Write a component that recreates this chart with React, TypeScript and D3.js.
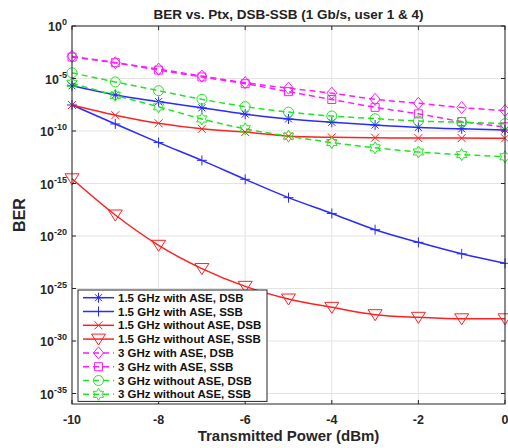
import React from 'react';
import * as d3 from 'd3';

// x axis: transmitted power (dBm)
const powers = [-10, -9, -8, -7, -6, -5, -4, -3, -2, -1, 0];

// BER (log axis)
const ber15AseDsb = [2.0e-6, 2.7e-7, 6.3e-8, 1.6e-8, 4.0e-9, 1.4e-9, 6.8e-10, 3.7e-10, 2.2e-10, 1.6e-10, 1.26e-10];
const ber15AseSsb = [3.0e-8, 4.7e-10, 7.9e-12, 1.6e-13, 2.5e-15, 4.5e-17, 1.4e-18, 4.0e-20, 2.5e-21, 2.0e-22, 2.5e-23];
const ber15NoAseDsb = [3.0e-8, 3.2e-9, 5.4e-10, 1.6e-10, 7.9e-11, 3.2e-11, 2.5e-11, 2.3e-11, 2.1e-11, 2.1e-11, 2.0e-11];
const ber15NoAseSsb = [2.8e-15, 1.0e-18, 1.3e-21, 7.9e-24, 1.6e-25, 1.0e-26, 1.6e-27, 3.2e-28, 1.8e-28, 1.3e-28, 1.3e-28];
const ber3AseDsb = [1.3e-3, 3.2e-4, 7.9e-5, 1.7e-5, 4.0e-6, 1.2e-6, 4.0e-7, 1.05e-7, 4.4e-8, 1.7e-8, 8.9e-9];
const ber3AseSsb = [1.1e-3, 3.2e-4, 6.3e-5, 1.4e-5, 3.2e-6, 5.6e-7, 1.0e-7, 1.8e-8, 4.3e-9, 7.9e-10, 2.5e-10];
const ber3NoAseDsb = [3.5e-5, 4.7e-6, 6.9e-7, 1.05e-7, 2.1e-8, 6.3e-9, 2.7e-9, 1.5e-9, 8.9e-10, 6.8e-10, 5.0e-10];
const ber3NoAseSsb = [3.5e-6, 2.5e-7, 2.0e-8, 1.4e-9, 1.6e-10, 3.2e-11, 7.9e-12, 2.5e-12, 1.0e-12, 5.6e-13, 3.5e-13];

const xTicks = [-10, -8, -6, -4, -2, 0];
const yTickExps = [0, -5, -10, -15, -20, -25, -30, -35];

const BLUE = '#2a2aff';
const RED = '#ff2020';
const MAGENTA = '#ff1aff';
const GREEN = '#1de81d';

type MarkerKind = 'asterisk' | 'plus' | 'x' | 'tridown' | 'diamond' | 'square' | 'circle' | 'hexagram';

const series: { name: string; values: number[]; color: string; dashed: boolean; marker: MarkerKind }[] = [
  { name: '1.5 GHz with ASE, DSB', values: ber15AseDsb, color: BLUE, dashed: false, marker: 'asterisk' },
  { name: '1.5 GHz with ASE, SSB', values: ber15AseSsb, color: BLUE, dashed: false, marker: 'plus' },
  { name: '1.5 GHz without ASE, DSB', values: ber15NoAseDsb, color: RED, dashed: false, marker: 'x' },
  { name: '1.5 GHz without ASE, SSB', values: ber15NoAseSsb, color: RED, dashed: false, marker: 'tridown' },
  { name: '3 GHz with ASE, DSB', values: ber3AseDsb, color: MAGENTA, dashed: true, marker: 'diamond' },
  { name: '3 GHz with ASE, SSB', values: ber3AseSsb, color: MAGENTA, dashed: true, marker: 'square' },
  { name: '3 GHz without ASE, DSB', values: ber3NoAseDsb, color: GREEN, dashed: true, marker: 'circle' },
  { name: '3 GHz without ASE, SSB', values: ber3NoAseSsb, color: GREEN, dashed: true, marker: 'hexagram' },
];

// marker path centred on 0,0
function markerPath(kind: MarkerKind): string {
  switch (kind) {
    case 'asterisk':
      return 'M0,-5V5M-5,0H5M-3.5,-3.5L3.5,3.5M-3.5,3.5L3.5,-3.5';
    case 'plus':
      return 'M0,-5V5M-5,0H5';
    case 'x':
      return 'M-4,-4L4,4M-4,4L4,-4';
    case 'tridown':
      return 'M-7,-5H7L0,6Z';
    case 'diamond':
      return 'M0,-6L5,0L0,6L-5,0Z';
    case 'square':
      return 'M-4,-4H4V4H-4Z';
    case 'circle':
      return 'M5,0A5,5 0 1,1 -5,0A5,5 0 1,1 5,0Z';
    case 'hexagram': {
      const pts: string[] = [];
      for (let i = 0; i < 12; i++) {
        const r = i % 2 === 0 ? 6 : 3.5;
        const a = (Math.PI / 6) * i - Math.PI / 2;
        pts.push(`${(r * Math.cos(a)).toFixed(2)},${(r * Math.sin(a)).toFixed(2)}`);
      }
      return 'M' + pts.join('L') + 'Z';
    }
  }
}

const width = 508;
const height = 448;
const margin = { top: 26, right: 3, bottom: 44, left: 72 };
const FONT = '"Liberation Sans", Arial, sans-serif';

export default function App() {
  const innerW = width - margin.left - margin.right;
  const innerH = height - margin.top - margin.bottom;

  const x = d3.scaleLinear().domain([-10, 0]).range([0, innerW]);
  const y = d3.scaleLog().domain([1e-36, 1]).range([innerH, 0]);

  const line = d3
    .line<number>()
    .x((_, i) => x(powers[i]))
    .y((d) => y(d))
    .curve(d3.curveMonotoneX);

  const legend = { x: 6, y: 264, w: 189, rowH: 13.8 };

  return (
    <svg
      width={width}
      height={height}
      style={{ position: 'absolute', left: 0, top: 0, background: '#fff', fontFamily: FONT }}
    >
      <text x={margin.left + innerW / 2} y={19} textAnchor="middle" fontSize={13.5} fontWeight="bold" fill="#222">
        BER vs. Ptx, DSB-SSB (1 Gb/s, user 1 &amp; 4)
      </text>

      <g transform={`translate(${margin.left},${margin.top})`}>
        {/* grid */}
        {xTicks.map((t) => (
          <line key={'gx' + t} x1={x(t)} x2={x(t)} y1={0} y2={innerH} stroke="#e3e3e3" strokeWidth={1} />
        ))}
        {yTickExps.map((e) => (
          <line key={'gy' + e} x1={0} x2={innerW} y1={y(10 ** e)} y2={y(10 ** e)} stroke="#e3e3e3" strokeWidth={1} />
        ))}

        {/* series lines */}
        {series.map((s) => (
          <path
            key={'l' + s.name}
            d={line(s.values) || ''}
            fill="none"
            stroke={s.color}
            strokeWidth={1.5}
            strokeDasharray={s.dashed ? '6,4' : undefined}
          />
        ))}
        {/* markers */}
        {series.map((s) =>
          s.values.map((v, i) => (
            <path
              key={'m' + s.name + i}
              transform={`translate(${x(powers[i])},${y(v)})`}
              d={markerPath(s.marker)}
              fill="none"
              stroke={s.color}
              strokeWidth={1}
            />
          ))
        )}

        {/* box + ticks */}
        <rect x={0} y={0} width={innerW} height={innerH} fill="none" stroke="#262626" strokeWidth={1} />
        {xTicks.map((t) => (
          <g key={'tx' + t}>
            <line x1={x(t)} x2={x(t)} y1={innerH} y2={innerH - 4} stroke="#262626" />
            <line x1={x(t)} x2={x(t)} y1={0} y2={4} stroke="#262626" />
            <text x={x(t)} y={innerH + 20} textAnchor="middle" fontSize={12.5} fontWeight="bold" fill="#262626">
              {t}
            </text>
          </g>
        ))}
        {yTickExps.map((e) => (
          <g key={'ty' + e}>
            <line x1={0} x2={4} y1={y(10 ** e)} y2={y(10 ** e)} stroke="#262626" />
            <line x1={innerW} x2={innerW - 4} y1={y(10 ** e)} y2={y(10 ** e)} stroke="#262626" />
            <text x={-5} y={y(10 ** e) + 5} textAnchor="end" fontWeight="bold" fill="#262626" fontSize={12.5}>
              10
              <tspan dy={-6} fontSize={9}>
                {e}
              </tspan>
            </text>
          </g>
        ))}

        {/* legend */}
        <g transform={`translate(${legend.x},${legend.y})`}>
          <rect x={0} y={0} width={legend.w} height={legend.rowH * 8 + 1} fill="#fff" stroke="#262626" strokeWidth={1} />
          {series.map((s, i) => {
            const cy = 7.7 + i * legend.rowH;
            return (
              <g key={'lg' + s.name}>
                <line
                  x1={5}
                  x2={36}
                  y1={cy}
                  y2={cy}
                  stroke={s.color}
                  strokeWidth={1.5}
                  strokeDasharray={s.dashed ? '6,4' : undefined}
                />
                <path transform={`translate(20.5,${cy})`} d={markerPath(s.marker)} fill="none" stroke={s.color} strokeWidth={1} />
                <text x={40} y={cy + 4} fontSize={11.5} fontWeight="bold" fill="#111">
                  {s.name}
                </text>
              </g>
            );
          })}
        </g>
      </g>

      <text
        transform={`translate(25,${margin.top + innerH / 2}) rotate(-90)`}
        textAnchor="middle"
        fontSize={16}
        fontWeight="bold"
        fill="#262626"
      >
        BER
      </text>
      <text x={margin.left + innerW / 2} y={441} textAnchor="middle" fontSize={15} fontWeight="bold" fill="#262626">
        Transmitted Power (dBm)
      </text>
    </svg>
  );
}
